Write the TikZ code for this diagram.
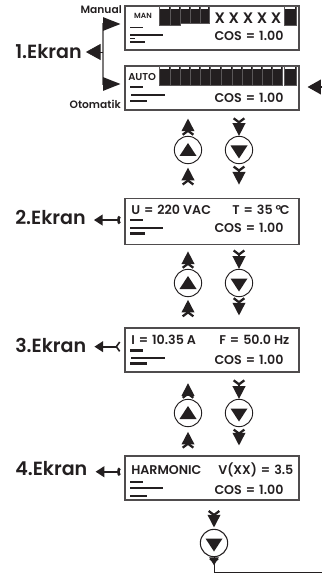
\documentclass[tikz,border=0pt]{standalone}
\usepackage{fontspec}
\setsansfont{Poppins}[BoldFont={Poppins SemiBold}]
\usetikzlibrary{arrows.meta}
\definecolor{ink}{HTML}{231F20}
\newcommand{\eqs}{\hspace{3pt}=\hspace{3pt}}
\tikzset{
  screen/.style={draw=ink!80,line width=.8pt,inner sep=0pt,minimum width=130.5pt,minimum height=33pt},
  button/.style={circle,draw=ink,line width=.7pt,inner sep=0pt,minimum size=20.5pt},
  stepper/.style={ink,line width=1.2pt,{Straight Barb[reversed,length=3pt,width=8pt,line width=1.7pt]}-{Triangle[length=9.5pt,width=9.5pt]}},
  tolabel/.style={ink,line width=1.3pt,{Arc Barb[reversed,length=2pt,width=7pt,line width=2pt]}-{Triangle[length=6.5pt,width=8pt]}},
  bigtext/.style={ink,font=\sffamily\bfseries\fontsize{14.3}{14}\selectfont,inner sep=0pt,anchor=west},
  sidetext/.style={ink,font=\sffamily\bfseries\fontsize{8}{8}\selectfont,inner sep=0pt,anchor=east},
  lcdtext/.style={ink,font=\sffamily\bfseries\fontsize{9.5}{9}\selectfont,inner sep=0pt},
  bartick/.style={ink,line width=1.3pt},
  barcol/.style={fill=ink,draw=ink!75,line width=.3pt},
}
\begin{document}
\begin{tikzpicture}[x=.75pt,y=-.75pt]
  \useasboundingbox (0,0) rectangle (322,577);
  % screens
  \node[screen] (scra) at (212,28) {};
  \node[screen] (scrb) at (212,88) {};
  \node[screen,minimum height=35pt] (scrc) at (212,221.5) {};
  \node[screen] (scrd) at (212,350) {};
  \node[screen] (scre) at (212,478) {};
  % left labels
  \node[bigtext] (labela) at (15,52) {1.Ekran};
  \node[bigtext] (labelb) at (15,217) {2.Ekran};
  \node[bigtext] (labelc) at (15,345) {3.Ekran};
  \node[bigtext] (labeld) at (15,469) {4.Ekran};
  \node[sidetext] (manual) at (122,10) {Manual};
  \node[sidetext] (otomatik) at (121,104) {Otomatik};
  % screen texts
  \node[lcdtext,font=\sffamily\bfseries\fontsize{5.6}{6}\selectfont] (mantext) at (143,16) {MAN};
  \node[lcdtext,font=\sffamily\bfseries\fontsize{7.5}{8}\selectfont,anchor=west] (autotext) at (128,77) {AUTO};
  \node[lcdtext,font=\sffamily\bfseries\fontsize{11.4}{11}\selectfont] (xtext) at (248,18) {X X X X X};
  \node[lcdtext] (cosa) at (249,36) {COS\eqs 1.00};
  \node[lcdtext] (cosb) at (249,98) {COS\eqs 1.00};
  \node[lcdtext,anchor=west] (utext) at (131,210) {U\eqs 220 VAC};
  \node[lcdtext,anchor=west] (ttext) at (232,210) {T\eqs 35 °\kern-1pt C};
  \node[lcdtext] (cosc) at (249,228) {COS\eqs 1.00};
  \node[lcdtext,anchor=west] (itext) at (131,340) {I\eqs 10.35 A};
  \node[lcdtext,anchor=west] (ftext) at (219,340) {F\eqs 50.0 Hz};
  \node[lcdtext] (cosd) at (249,360) {COS\eqs 1.00};
  \node[lcdtext,anchor=west] (htext) at (131,470) {HARMONIC};
  \node[lcdtext,anchor=west] (vtext) at (218,470) {V(XX)\eqs 3.5};
  \node[lcdtext] (cose) at (249,489.5) {COS\eqs 1.00};
  % level bars
  \foreach \xa/\xb/\yb in {159/170/25,170/180/25,180/190/23,190/200/23,200/209/23,284/296/25}{
    \path[barcol] (\xa,6.5) rectangle (\xb,\yb);
    \fill[white] (\xa+1,7.5) rectangle (\xb-1,9.5);
  }
  \foreach \xa/\xb in {159/170,170/180,180/190,190/200,200/210,210/221,221/232,232/242,242/252,252/262,262/272,272/282,284/296}{
    \path[barcol] (\xa,66.5) rectangle (\xb,85);
    \fill[white] (\xa+1,67.5) rectangle (\xb-1,69.5);
  }
  % bar ticks
  \draw[bartick] (130,27.5) -- (143,27.5);
  \draw[bartick] (130,35) -- (163,35);
  \draw[ink,line width=.6pt] (130,38) -- (135,38);
  \draw[bartick] (130,42) -- (145,42);
  \draw[bartick] (130,87) -- (143,87);
  \draw[bartick] (131,95) -- (165,95);
  \draw[bartick] (130,101) -- (147,101);
  \draw[bartick] (130,220) -- (143,220);
  \draw[bartick] (130,227.7) -- (163,227.7);
  \draw[ink,line width=2pt] (130,233.3) -- (145,233.3);
  \draw[ink,line width=2.4pt] (130,350.7) -- (143,350.7);
  \draw[bartick] (131,357.7) -- (165,357.7);
  \draw[ink,line width=2pt] (130,363.7) -- (147,363.7);
  \draw[bartick] (130,481.7) -- (143,481.7);
  \draw[bartick] (130,487.7) -- (163,487.7);
  \draw[bartick] (130,496) -- (147,496);
  % buttons
  \node[button] (upa) at (188,150) {};
  \node[button] (dna) at (239,150) {};
  \node[button] (upb) at (188,283) {};
  \node[button] (dnb) at (239,283) {};
  \node[button] (upc) at (188,413) {};
  \node[button] (dnc) at (239,413) {};
  \node[button,line width=.8pt] (dnd) at (214,543) {};
  \foreach \btn in {upa,upb,upc}
    \fill[ink] ([shift={(-8.5,6)}]\btn.center) -- ([shift={(8.5,6)}]\btn.center) -- ([shift={(0,-7)}]\btn.center) -- cycle;
  \foreach \btn in {dna,dnb,dnc,dnd}
    \fill[ink] ([shift={(-8.5,-4.5)}]\btn.center) -- ([shift={(8.5,-4.5)}]\btn.center) -- ([shift={(0,8.5)}]\btn.center) -- cycle;
  % steps, first row
  \draw[stepper,shorten >=6pt] (upa.north) -- (scrb.south -| upa);
  \draw[stepper,shorten <=5pt] (scrb.south -| dna) -- (dna.north);
  \draw[stepper,shorten <=9pt,shorten >=2.6pt] (scrc.north -| upa) -- (upa.south);
  \draw[stepper,shorten <=1pt,shorten >=9.75pt] (dna.south) -- (scrc.north -| dna);
  % steps, second row
  \draw[stepper,shorten >=4.5pt] (upb.north) -- (scrc.south -| upb);
  \draw[stepper,shorten <=3pt] (scrc.south -| dnb) -- (dnb.north);
  \draw[stepper,shorten <=7.5pt,shorten >=2pt] (scrd.north -| upb) -- (upb.south);
  \draw[stepper,shorten >=9pt] (dnb.south) -- (scrd.north -| dnb);
  % steps, third row
  \draw[stepper,shorten >=8pt] (upc.north) -- (scrd.south -| upc);
  \draw[stepper,shorten <=5pt] (scrd.south -| dnc) -- (dnc.north);
  \draw[stepper,shorten <=5pt,shorten >=3.5pt] (scre.north -| upc) -- (upc.south);
  \draw[stepper,shorten <=1pt,shorten >=7.5pt] (dnc.south) -- (scre.north -| dnc);
  % last step and way back
  \draw[stepper,shorten <=7pt,shorten >=1pt] (scre.south -| dnd) -- (dnd.north);
  \coordinate (exitk) at (214,572);
  \coordinate (exit) at (322,572);
  \coordinate (retin) at (322,87);
  \draw[stepper,{Straight Barb[reversed,length=2pt,width=6pt,line width=1.4pt]}-{Triangle[length=6pt,width=7pt]},shorten <=.5pt,shorten >=5pt] (dnd.south) -- (exitk);
  \draw[ink,line width=.75pt] (dnd.south) -- (exitk) -- (exit);
  \draw[ink,line width=1pt,-{Triangle[length=10pt,width=11pt]},shorten >=6pt] (retin) -- (scrb.east |- retin);
  % fork to the first screen
  \coordinate (fork) at (103,52);
  \draw[ink!60,line width=1.1pt,-{Triangle[length=13pt,width=10pt,color=ink]},shorten >=3pt] (fork) |- ([yshift=3pt]scra.west);
  \draw[ink!60,line width=1.1pt,-{Triangle[length=13pt,width=10pt,color=ink]},shorten >=3pt] (fork) |- ([yshift=3pt]scrb.west);
  \draw[ink,line width=.5pt,-{Triangle[length=11pt,width=12pt]},shorten >=3pt] (fork) -- (labela.east |- fork);
  % arrows to the labels
  \draw[tolabel,shorten <=3.5pt,shorten >=6pt] ([yshift=1.1pt]scrc.west) -- ([yshift=1.1pt]scrc.west -| labelb.east);
  \draw[tolabel,shorten <=3pt,shorten >=6pt,{Straight Barb[reversed,length=2.5pt,width=7pt,line width=1.2pt]}-{Triangle[length=6.5pt,width=8pt]}] ([yshift=2.5pt]scrd.west) -- ([yshift=2.5pt]scrd.west -| labelc.east);
  \draw[tolabel,shorten <=3.5pt,shorten >=6pt] ([yshift=4.7pt]scre.west) -- ([yshift=4.7pt]scre.west -| labeld.east);
\end{tikzpicture}
\end{document}
